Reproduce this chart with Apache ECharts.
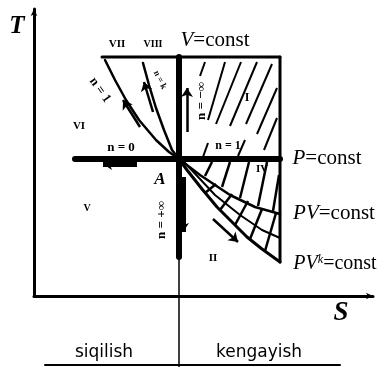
<!DOCTYPE html>
<html>
<head>
    <meta charset="utf-8" />
    <title>T-S polytrop</title>
    <script src="https://cdn.jsdelivr.net/npm/echarts@6/dist/echarts.min.js"></script>
    <style>
        html, body { margin: 0; padding: 0; background: #fff; }
    </style>
</head>
<body>
    <div id="main" style="width: 387px;height:367px;"></div>

    <script type="text/javascript">
        // koordinatalar: S (gorizontal) va T (vertikal), shartli birliklar
        var pLine = [[41, 137], [246, 137]];
        var vLine = [[145, 239], [145, 39]];
        var vThin = [[145, 39], [145, -71]];
        var topLine = [[68, 239], [246, 239]];
        var rightLine = [[246, 239], [246, 34]];
        var baseLine = [[11, -69], [306, -69]];

        var curveVII = [[71, 236], [81, 216], [92, 196], [105, 176], [122, 156], [135, 144], [145, 137]];
        var curveVIII = [[109, 233], [115, 211], [122, 188], [130, 166], [138, 146], [145, 137]];
        var curvePVk = [[145, 137], [153, 126], [168, 107], [183, 89], [198, 74], [213, 59], [228, 47], [246, 34]];
        var curvePV = [[145, 137], [166, 121], [196, 101], [221, 89], [246, 82]];
        var curveMid = [[151, 133], [181, 101], [206, 81], [228, 66], [246, 58]];

        // shtrixlar
        var hatchTop = [
            [[171, 234], [166, 220]], [[191, 234], [174, 176]], [[207, 234], [182, 172]],
            [[223, 234], [196, 170]], [[238, 232], [212, 172]], [[243, 208], [223, 162]],
            [[243, 178], [230, 146]], [[174, 153], [169, 139]], [[211, 156], [204, 140]]
        ];
        var hatchBand1 = [
            [[171, 120], [178, 134]], [[188, 109], [196, 134]], [[206, 98], [215, 134]],
            [[224, 90], [233, 134]], [[239, 85], [245, 121]]
        ];
        var hatchBand2 = [
            [[171, 103], [182, 112]], [[186, 86], [198, 102]], [[201, 71], [214, 95]],
            [[216, 57], [228, 87]], [[231, 45], [242, 83]]
        ];

        // jarayon yo'nalishi strelkalari
        var arrowsThick = [[[103, 132], [69, 132]], [[149, 119], [149, 64]]];
        var arrowsThin = [
            [[106, 169], [89, 196]], [[119, 184], [110, 214]],
            [[153, 164], [153, 208]], [[179, 77], [204, 54]]
        ];

        var myChart = echarts.init(document.getElementById('main'));

        function poly(data, w) {
            return {
                type: 'line', data: data, symbol: 'none', clip: false, silent: true,
                lineStyle: { color: '#000', width: w, cap: 'round' }
            };
        }
        function segs(list, w, arrow) {
            return {
                type: 'lines', coordinateSystem: 'cartesian2d', clip: false, silent: true,
                symbol: arrow ? ['none', 'arrow'] : 'none', symbolSize: arrow ? 9 : 0,
                lineStyle: { color: '#000', width: w, opacity: 1 },
                data: list.map(function (c) { return { coords: c }; })
            };
        }

        var serif = '"Liberation Serif", "DejaVu Serif", serif';
        function txt(t, x, y, size, opt) {
            opt = opt || {};
            return {
                type: 'text', x: x, y: y, rotation: opt.rot || 0, silent: true,
                style: {
                    text: t, fill: '#000', align: 'center', verticalAlign: 'middle',
                    font: (opt.style || '') + ' ' + (opt.weight || 'normal') + ' ' + size + 'px ' + (opt.family || serif),
                    rich: opt.rich
                }
            };
        }
        var italRich = function (size) {
            return {
                i: { fontStyle: 'italic', fontSize: size, fontFamily: 'Liberation Serif' },
                k: { fontStyle: 'italic', fontSize: 12, fontFamily: 'Liberation Serif', padding: [0, 0, 9, 0] }
            };
        };

        var option = {
            animation: false,
            grid: { left: 34, top: 9, right: 14, bottom: 71 },
            xAxis: {
                type: 'value', min: 0, max: 339,
                axisLine: { show: true, symbol: ['none', 'arrow'], symbolSize: [5, 7], lineStyle: { color: '#000', width: 3 } },
                axisTick: { show: false }, axisLabel: { show: false }, splitLine: { show: false }
            },
            yAxis: {
                type: 'value', min: 0, max: 287,
                axisLine: { show: true, symbol: ['none', 'arrow'], symbolSize: [5, 7], lineStyle: { color: '#000', width: 3 } },
                axisTick: { show: false }, axisLabel: { show: false }, splitLine: { show: false }
            },
            series: [
                poly(topLine, 3),
                poly(rightLine, 3),
                poly(pLine, 6),
                poly(vLine, 6),
                poly(vThin, 1.5),
                poly(baseLine, 2),
                poly(curveVII, 2.5),
                poly(curveVIII, 2.5),
                poly(curvePVk, 3),
                poly(curvePV, 2.5),
                poly(curveMid, 2),
                segs(hatchTop, 2, false),
                segs(hatchBand1, 2.5, false),
                segs(hatchBand2, 2.5, false),
                segs(arrowsThick, 5, true),
                segs(arrowsThin, 2.5, true)
            ],
            graphic: [
                txt('T', 17, 27, 25, { style: 'italic', weight: 'bold' }),
                txt('S', 341, 313, 27, { style: 'italic', weight: 'bold' }),
                txt('{i|V}=const', 215, 40, 21, { rich: italRich(21) }),
                txt('{i|P}=const', 327, 158, 21, { rich: italRich(21) }),
                txt('{i|PV}=const', 334, 213, 21, { rich: italRich(21) }),
                txt('{i|PV}{k|k}=const', 335, 264, 20, { rich: italRich(20) }),
                txt('VII', 117, 44, 11, { weight: 'bold' }),
                txt('VIII', 153, 44, 10, { weight: 'bold' }),
                txt('VI', 79, 126, 11, { weight: 'bold' }),
                txt('V', 87, 208, 10, { weight: 'bold' }),
                txt('I', 247, 98, 12, { weight: 'bold' }),
                txt('IV', 262, 169, 11, { weight: 'bold' }),
                txt('II', 213, 258, 11, { weight: 'bold' }),
                txt('A', 160, 180, 17, { style: 'italic', weight: 'bold' }),
                txt('n = 0', 121, 148, 13, { weight: 'bold' }),
                txt('n = 1', 228, 146, 12, { weight: 'bold' }),
                txt('n = 1', 100, 90, 13, { weight: 'bold', rot: -0.95 }),
                txt('n = k', 160, 80, 9, { weight: 'bold', rot: -1.1 }),
                txt('n = \u2212\u221e', 202, 101, 13, { weight: 'bold', rot: Math.PI / 2 }),
                txt('n = +\u221e', 162, 220, 13, { weight: 'bold', rot: Math.PI / 2 }),
                txt('siqilish', 104, 353, 17, { family: '"DejaVu Sans", sans-serif' }),
                txt('kengayish', 259, 353, 17, { family: '"DejaVu Sans", sans-serif' })
            ]
        };

        myChart.setOption(option);
    </script>
</body>
</html>
